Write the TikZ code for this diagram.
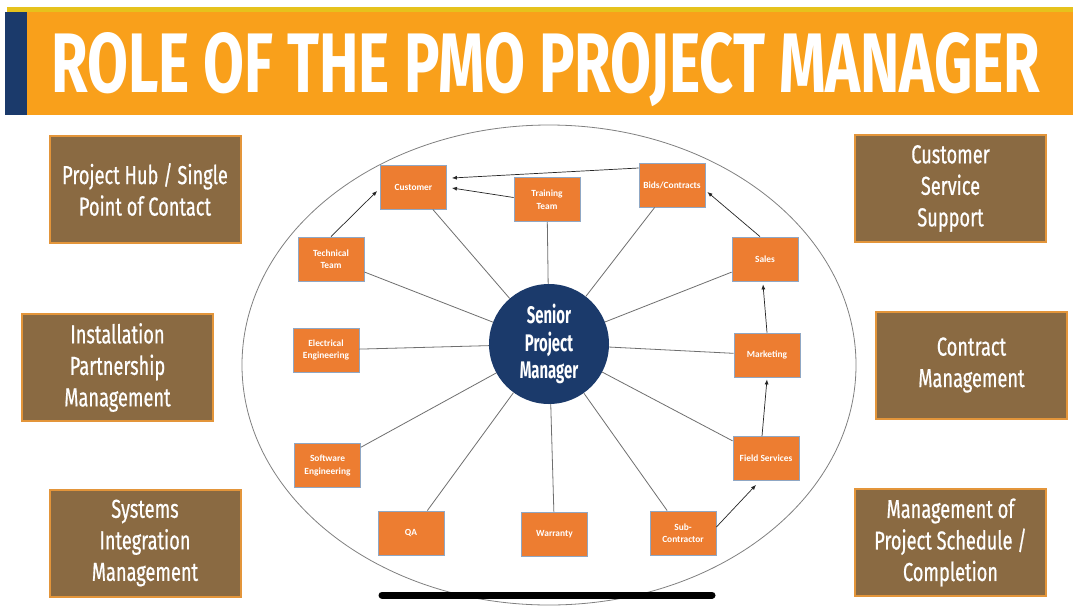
\documentclass[tikz,border=0pt]{standalone}
\usepackage{fontspec}
\usetikzlibrary{arrows.meta}
\newfontfamily\condfont[FakeStretch=0.62]{Fira Sans}
\newfontfamily\rolefont[FakeStretch=0.7,FakeBold=0.6]{Fira Sans}
\newfontfamily\boxfont{Carlito}
\definecolor{barorange}{HTML}{F9A01B}
\definecolor{goldline}{HTML}{E6C21C}
\definecolor{navy}{HTML}{1B3A6B}
\definecolor{brownbox}{HTML}{8A6A42}
\definecolor{brownborder}{HTML}{E3953A}
\definecolor{orangebox}{HTML}{ED7D31}
\definecolor{boxborder}{HTML}{8FA7C4}
\definecolor{spokegray}{HTML}{6F6F6F}
\begin{document}
\begin{tikzpicture}[x=1pt,y=-1pt,
  rolebox/.style={draw=brownborder, line width=2pt, fill=brownbox, text=white,
    minimum width=191pt, minimum height=107pt, align=center, inner sep=0pt,
    font=\rolefont\fontsize{26}{31.5}\selectfont},
  dept/.style={draw=boxborder, line width=0.8pt, fill=orangebox, text=white,
    minimum width=66pt, minimum height=44pt, align=center, inner sep=0pt,
    font=\boxfont\bfseries\fontsize{9.4}{12.5}\selectfont},
  spoke/.style={draw=spokegray, line width=0.8pt},
  flow/.style={draw=black!85, line width=0.7pt, -{Latex[length=5pt,width=4pt]}}]
\useasboundingbox (0,0) rectangle (1073,606);
\fill[white] (0,0) rectangle (1073,606);
% title bar
\fill[goldline] (7,7) rectangle (1073,12);
\fill[barorange] (5,12) rectangle (1073,115);
\fill[navy] (5,12) rectangle (27,115);
\node[anchor=base west, inner sep=0pt, text=white] (title) at (51,92)
  {\resizebox{989pt}{60pt}{\condfont\bfseries ROLE OF THE PMO PROJECT MANAGER}};
% ellipse
\draw[gray, line width=0.8pt] (549,365) ellipse [x radius=307, y radius=240];
% role boxes
\node[rolebox] (hub) at (145,189.5) {Project Hub / Single\\Point of Contact};
\node[rolebox] (inst) at (117.5,367.5) {Installation\\Partnership\\Management};
\node[rolebox] (sysint) at (145,543) {Systems\\Integration\\Management};
\node[rolebox] (css) at (950.5,188.5) {Customer\\Service\\Support};
\node[rolebox] (contract) at (971.5,365) {Contract\\Management};
\node[rolebox] (sched) at (950.5,542.5) {Management of\\Project Schedule /\\Completion};
% center
\node[circle, fill=navy, minimum size=120pt, inner sep=0pt, text=white, align=center,
  font=\condfont\bfseries\fontsize{24}{27.5}\selectfont] (spm) at (549,344)
  {Senior\\Project\\Manager};
% departments
\node[dept] (cust) at (413.5,187) {Customer};
\node[dept] (train) at (547,199.5) {Training\\Team};
\node[dept] (tech) at (331,259) {Technical\\Team};
\node[dept] (bids) at (672,185) {Bids/Contracts};
\node[dept] (sales) at (765,259) {Sales};
\node[dept] (elec) at (326,350) {Electrical\\Engineering};
\node[dept] (soft) at (327.5,465.5) {Software\\Engineering};
\node[dept] (mkt) at (767,355) {Marketing};
\node[dept] (field) at (766,458.5) {Field Services};
\node[dept] (qa) at (411,533) {QA};
\node[dept] (warr) at (554.5,534) {Warranty};
\node[dept] (sub) at (683,533) {Sub-\\Contractor};
% spokes
\foreach \n in {cust,train,tech,bids,sales,elec,soft,mkt,field,qa,warr,sub}
  \draw[spoke] (spm) -- (\n);
% arrows
\draw[flow] (tech.north) -- ([xshift=-3pt,yshift=-4pt]cust.west);
\draw[flow] ([yshift=2pt]train.west) -- ([xshift=5pt,yshift=-1pt]cust.east);
\draw[flow] ([yshift=17pt]bids.west) -- ([xshift=5pt,yshift=9pt]cust.east);
\draw[flow] ([xshift=-5pt]sales.north) -- ([xshift=2pt,yshift=-7pt]bids.east);
\draw[flow] (mkt.north) -- ([xshift=-2pt,yshift=-3pt]sales.south);
\draw[flow] ([xshift=-4pt]field.north) -- ([yshift=-2pt]mkt.south);
\draw[flow] ([yshift=6pt]sub.east) -- ([xshift=-10pt,yshift=-4pt]field.south);
% bottom bar
\draw[black, line width=7pt, line cap=round] (382,595) -- (712,595);
\end{tikzpicture}
\end{document}
